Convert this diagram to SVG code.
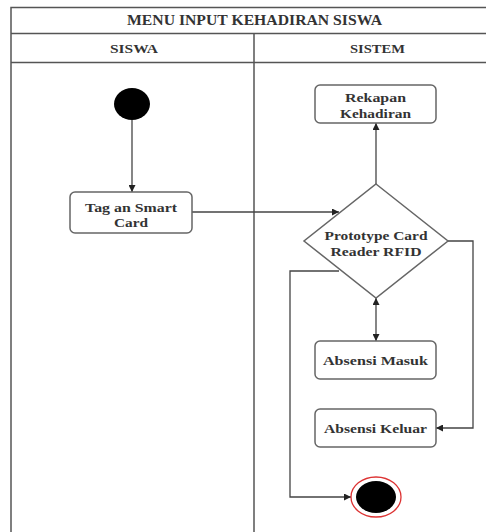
<svg xmlns="http://www.w3.org/2000/svg" width="486" height="532" viewBox="0 0 486 532">
<defs>
<style>
.lane{fill:none;stroke:#555;stroke-width:1.5}
.box{fill:#fff;stroke:#666;stroke-width:1.5}
.t{font-family:"Liberation Serif","Times New Roman",serif;font-weight:bold;fill:#333;text-anchor:middle}
.n{font-size:13px}
.h{font-size:13px}
.c{fill:none;stroke:#444;stroke-width:1.3}
</style>
<marker id="ah" viewBox="0 0 10 10" refX="10" refY="5" markerWidth="7" markerHeight="7" orient="auto-start-reverse" markerUnits="userSpaceOnUse">
<path d="M0,0 L10,5 L0,10 z" fill="#222"/>
</marker>
</defs>
<rect width="486" height="532" fill="#fff"/>
<g id="swimlanes">
<path class="lane" d="M11,540 V7.5 H500 M11,33.5 H500 M11,62.5 H500 M254,33.5 V540"/>
<text class="t" x="254.5" y="25" font-size="14" textLength="255" lengthAdjust="spacingAndGlyphs">MENU INPUT KEHADIRAN SISWA</text>
<text class="t h" x="134" y="53" textLength="48" lengthAdjust="spacingAndGlyphs">SISWA</text>
<text class="t h" x="377.5" y="53" textLength="55" lengthAdjust="spacingAndGlyphs">SISTEM</text>
</g>
<g id="connectors">
<path class="c" d="M132,120 V192" marker-end="url(#ah)"/>
<path class="c" d="M192,212 H339" marker-end="url(#ah)"/>
<path class="c" d="M376,184 V123" marker-end="url(#ah)"/>
<path class="c" d="M376,298 V341" marker-start="url(#ah)" marker-end="url(#ah)"/>
<path class="c" d="M448,241 H473 V428 H436" marker-end="url(#ah)"/>
<path class="c" d="M339,271 H290 V497 H351" marker-end="url(#ah)"/>
</g>
<g id="start">
<ellipse cx="132" cy="104" rx="18" ry="16" fill="#000"/>
</g>
<g id="tag">
<rect class="box" x="70" y="192" width="122" height="41" rx="5"/>
<text class="t n" x="131" y="211.5" textLength="92" lengthAdjust="spacingAndGlyphs">Tag an Smart</text>
<text class="t n" x="131" y="226.5" textLength="34" lengthAdjust="spacingAndGlyphs">Card</text>
</g>
<g id="rekapan">
<rect class="box" x="315" y="85" width="121" height="38" rx="5"/>
<text class="t n" x="375.5" y="101.5" textLength="61" lengthAdjust="spacingAndGlyphs">Rekapan</text>
<text class="t n" x="375.5" y="117.5" textLength="71" lengthAdjust="spacingAndGlyphs">Kehadiran</text>
</g>
<g id="decision">
<path class="box" d="M376,184 L448,241 L376,298 L304,241 z"/>
<text class="t n" x="376" y="239.5" textLength="103" lengthAdjust="spacingAndGlyphs">Prototype Card</text>
<text class="t n" x="376" y="255.5" textLength="91" lengthAdjust="spacingAndGlyphs">Reader RFID</text>
</g>
<g id="masuk">
<rect class="box" x="315" y="341" width="121" height="38" rx="5"/>
<text class="t n" x="375.5" y="364.5" textLength="105" lengthAdjust="spacingAndGlyphs">Absensi Masuk</text>
</g>
<g id="keluar">
<rect class="box" x="315" y="409" width="121" height="38" rx="5"/>
<text class="t n" x="375.5" y="432.5" textLength="103" lengthAdjust="spacingAndGlyphs">Absensi Keluar</text>
</g>
<g id="end">
<ellipse cx="376" cy="497" rx="25" ry="20" fill="#fff" stroke="#d33" stroke-width="1.3"/>
<ellipse cx="376" cy="497" rx="20" ry="16" fill="#000"/>
</g>
</svg>
